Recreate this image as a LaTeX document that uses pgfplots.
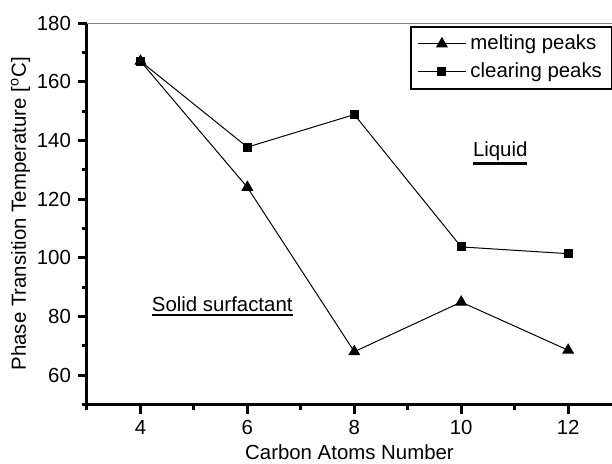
\documentclass[border=0pt]{standalone}
\usepackage{pgfplots}
\pgfplotsset{compat=1.18}
\usepackage{fontspec}
\setmainfont{Liberation Sans}
\newcommand\thickul[1]{\vtop{\hbox{#1}\kern1pt\hrule height 1.1pt}}
\begin{document}
\begin{tikzpicture}
\begin{axis}[
  scale only axis,
  width=262.5pt, height=190.75pt,
  xmin=3, xmax=12.82, ymin=50, ymax=180,
  axis x line*=bottom, axis y line*=left,
  axis line style={line width=1.5pt},
  xtick={4,6,8,10,12}, minor xtick={3,5,7,9,11},
  ytick={60,80,...,180}, minor ytick={50,70,...,170},
  tick style={line width=1.5pt, black},
  tick align=outside,
  major tick length=4.5pt, minor tick length=2.5pt,
  /pgf/number format/assume math mode=true,
  ticklabel style={font=\fontsize{10.2}{12}\selectfont},
  label style={font=\fontsize{10.2}{12}\selectfont},
  xlabel={Carbon Atoms Number},
  ylabel={Phase Transition Temperature [\textsuperscript{o}C]},
  xlabel style={yshift=2pt},
  ylabel style={yshift=-3.5pt},
  clip=false,
  legend style={at={(rel axis cs:1,1)}, anchor=north east, yshift=-1.5pt, xshift=0.5pt,
    draw=black, line width=1pt, font=\fontsize{10.2}{12}\selectfont,
    inner xsep=3pt, inner ysep=2pt, row sep=1pt,
    /tikz/every even column/.append style={column sep=7pt}},
  legend image code/.code={\draw[mark repeat=2,mark phase=2,#1] plot coordinates {(0pt,0pt) (12pt,0pt) (24pt,0pt)};},
  legend cell align=left,
]
\draw[gray, line width=0.5pt] (rel axis cs:0,1) -- (rel axis cs:1,1);
\addplot[black, line width=0.5pt, mark=triangle*, mark size=3pt, mark options={solid,line width=0.5pt}]
  coordinates {(4,167) (6,124) (8,68) (10,84.9) (12,68.5)};
\addlegendentry{melting peaks}
\addplot[black, line width=0.5pt, mark=square*, mark size=2pt, mark options={solid,line width=0.5pt}]
  coordinates {(4,167) (6,137.7) (8,148.8) (10,103.7) (12,101.4)};
\addlegendentry{clearing peaks}
\node[font=\fontsize{10.2}{12}\selectfont] at (axis cs:10.73,135.7) {\thickul{Liquid}};
\node[font=\fontsize{10.2}{12}\selectfont] at (axis cs:5.53,83.5) {\thickul{Solid surfactant}};
\end{axis}
\pgfresetboundingbox
\path (-43.5pt,-29.25pt) rectangle (262.5pt,202.25pt);
\end{tikzpicture}
\end{document}
